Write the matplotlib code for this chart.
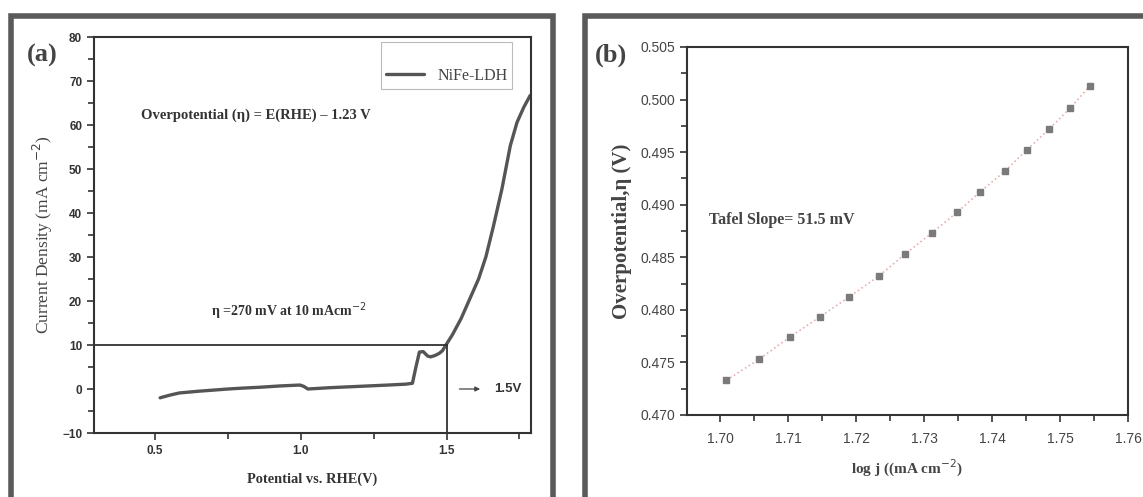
import matplotlib
matplotlib.use("Agg")
import matplotlib.pyplot as plt
from matplotlib.patches import Rectangle
from matplotlib.ticker import MultipleLocator, FormatStrFormatter

# panel (a): LSV curve of NiFe-LDH
potential = [0.517, 0.55, 0.583, 0.65, 0.69, 0.75, 0.80, 0.86, 0.93, 0.997, 1.01, 1.024,
             1.05, 1.10, 1.20, 1.30, 1.36, 1.383, 1.395, 1.407, 1.42, 1.435, 1.445, 1.46,
             1.475, 1.486, 1.50, 1.52, 1.55, 1.58, 1.61, 1.635, 1.661, 1.69, 1.719, 1.742,
             1.765, 1.787]
current = [-2.0, -1.4, -0.9, -0.5, -0.3, 0.0, 0.2, 0.4, 0.7, 0.9, 0.6, 0.0,
           0.1, 0.3, 0.6, 0.9, 1.1, 1.3, 5.0, 8.4, 8.5, 7.5, 7.3, 7.6,
           8.1, 8.7, 10.2, 12.3, 16.0, 20.5, 25.0, 30.0, 37.0, 45.4, 55.3, 60.6,
           64.0, 66.7]
onset_v = 1.5
onset_j = 10

# panel (b): Tafel plot
log_j = [1.7009, 1.7057, 1.7102, 1.7146, 1.7189, 1.7233, 1.7272, 1.7311, 1.7349,
         1.7382, 1.7419, 1.7451, 1.7484, 1.7515, 1.7544]
eta = [0.4733, 0.4753, 0.4774, 0.4793, 0.4812, 0.4832, 0.4853, 0.4873, 0.4893,
       0.4912, 0.4932, 0.4952, 0.4972, 0.4992, 0.5013]

W, H = 1143, 497
fig = plt.figure(figsize=(W / 100, H / 100), dpi=100)

serif = "Liberation Serif"
sans = "Liberation Sans"

# panel frames
for x0, x1 in [(11, 553), (585, 1160)]:
    fig.add_artist(Rectangle((x0 / W, -0.02), (x1 - x0) / W, 1 - 16 / H + 0.02,
                             transform=fig.transFigure, fill=False,
                             edgecolor="#5a5a5a", linewidth=4))

# ---------- (a) ----------
ax1 = fig.add_axes([94 / W, 1 - 433 / H, (531 - 94) / W, (433 - 37) / H])
ax1.plot(potential, current, color="#555555", linewidth=2.4, label="NiFe-LDH",
         solid_capstyle="round")
ax1.plot([0.29, onset_v], [onset_j, onset_j], color="#333333", linewidth=1.3)
ax1.plot([onset_v, onset_v], [-10, onset_j], color="#333333", linewidth=1.3)
ax1.set_xlim(0.29, 1.79)
ax1.set_ylim(-10, 80)
ax1.xaxis.set_major_locator(MultipleLocator(0.5))
ax1.xaxis.set_minor_locator(MultipleLocator(0.25))
ax1.yaxis.set_major_locator(MultipleLocator(10))
ax1.yaxis.set_minor_locator(MultipleLocator(5))
ax1.xaxis.set_major_formatter(FormatStrFormatter("%.1f"))
ax1.tick_params(which="both", direction="out", top=False, right=False, width=1.2,
                color="#333333")
ax1.tick_params(which="major", length=5)
ax1.tick_params(which="minor", length=4)
for lab in ax1.get_xticklabels() + ax1.get_yticklabels():
    lab.set_fontfamily(sans)
    lab.set_fontweight("bold")
    lab.set_fontsize(8.5)
    lab.set_color("#333333")
for s in ax1.spines.values():
    s.set_linewidth(1.5)
    s.set_color("#333333")
ax1.set_xlabel("Potential vs. RHE(V)", fontfamily=serif, fontweight="bold",
               fontsize=10.4, color="#333333", labelpad=11)
ax1.set_ylabel("Current Density (mA cm$^{-2}$)", fontfamily=serif, fontsize=12.5,
               color="#444444", labelpad=5)
ax1.text(0.45, 62.3, "Overpotential (η) = E(RHE) – 1.23 V", fontfamily=serif,
         fontweight="bold", fontsize=10.5, color="#333333", va="center")
ax1.text(0.69, 17.7, "η =270 mV at 10 mAcm$^{-2}$", fontfamily=serif,
         fontweight="bold", fontsize=10, color="#333333", va="center")
ax1.annotate("", xy=(1.625, 0), xytext=(1.535, 0),
             arrowprops=dict(arrowstyle="-|>", color="#444444", lw=0.9,
                             mutation_scale=7))
ax1.text(1.665, 0, "1.5V", fontfamily=sans, fontweight="bold", fontsize=9.5,
         color="#333333", va="center")
leg = ax1.legend(loc="upper right", bbox_to_anchor=(0.957, 0.987), frameon=True,
                 fancybox=False, edgecolor="#aaaaaa", title=" ",
                 prop={"family": serif, "size": 11.5}, handlelength=2.4,
                 borderpad=0.3, borderaxespad=0, title_fontsize=9)
leg.get_frame().set_linewidth(0.8)
for t in leg.get_texts():
    t.set_color("#444444")
fig.text(27 / W, 1 - 55 / H, "(a)", fontfamily=serif, fontweight="bold",
         fontsize=19, color="#444444", va="center", ha="left")

# ---------- (b) ----------
ax2 = fig.add_axes([687 / W, 1 - 415 / H, (1128 - 687) / W, (415 - 47) / H])
ax2.plot(log_j, eta, linestyle=":", color="#e6b0b0", linewidth=1.2)
ax2.plot(log_j, eta, linestyle="none", marker="s", markersize=5,
         color="#7a7a7a")
ax2.set_xlim(1.6951, 1.76)
ax2.set_ylim(0.470, 0.505)
ax2.xaxis.set_major_locator(MultipleLocator(0.01))
ax2.xaxis.set_minor_locator(MultipleLocator(0.005))
ax2.yaxis.set_major_locator(MultipleLocator(0.005))
ax2.yaxis.set_minor_locator(MultipleLocator(0.0025))
ax2.xaxis.set_major_formatter(FormatStrFormatter("%.2f"))
ax2.yaxis.set_major_formatter(FormatStrFormatter("%.3f"))
ax2.tick_params(which="both", direction="out", top=False, right=False, width=1.2,
                color="#333333")
ax2.tick_params(which="major", length=5)
ax2.tick_params(which="minor", length=4)
ax2.tick_params(axis="x", pad=7)
for lab in ax2.get_xticklabels() + ax2.get_yticklabels():
    lab.set_fontfamily(sans)
    lab.set_fontsize(10)
    lab.set_color("#444444")
for s in ax2.spines.values():
    s.set_linewidth(1.5)
    s.set_color("#333333")
ax2.set_xlabel("log j ((mA cm$^{-2}$)", fontfamily=serif, fontweight="bold",
               fontsize=11, color="#444444", labelpad=9)
ax2.set_ylabel("Overpotential,η (V)", fontfamily=serif, fontweight="bold",
               fontsize=15, color="#444444", labelpad=6)
ax2.text(1.6984, 0.4885, "Tafel Slope= 51.5 mV", fontfamily=serif,
         fontweight="bold", fontsize=11.5, color="#444444", va="center")
fig.text(595 / W, 1 - 55 / H, "(b)", fontfamily=serif, fontweight="bold",
         fontsize=19, color="#444444", va="center", ha="left")

fig.savefig("out.png", dpi=100, facecolor="white")
